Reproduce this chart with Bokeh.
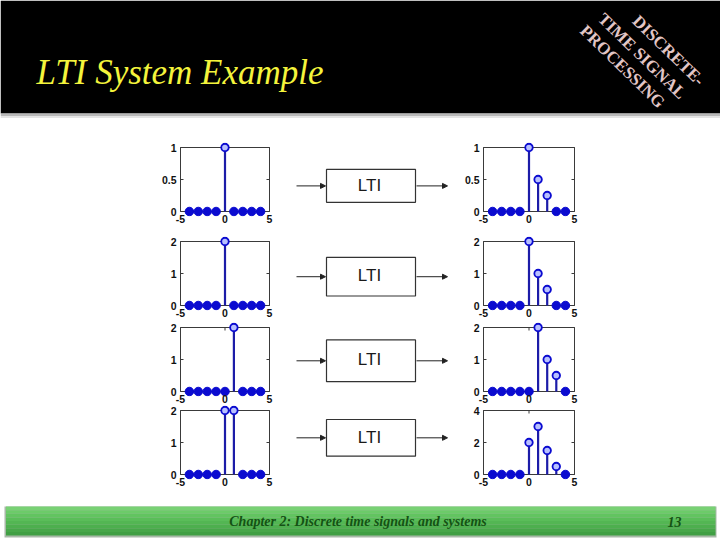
from bokeh.plotting import figure
from bokeh.layouts import column, row, Spacer
from bokeh.models import Range1d, FixedTicker, Arrow, NormalHead
from bokeh.embed import file_html
from bokeh.resources import INLINE
from bokeh.core.properties import value

# ---------------- data ----------------
n = [-4, -3, -2, -1, 0, 1, 2, 3, 4]
x_in_1 = [0, 0, 0, 0, 1, 0, 0, 0, 0]
y_out_1 = [0, 0, 0, 0, 1, 0.5, 0.25, 0, 0]
x_in_2 = [0, 0, 0, 0, 2, 0, 0, 0, 0]
y_out_2 = [0, 0, 0, 0, 2, 1, 0.5, 0, 0]
x_in_3 = [0, 0, 0, 0, 0, 2, 0, 0, 0]
y_out_3 = [0, 0, 0, 0, 0, 2, 1, 0.5, 0]
x_in_4 = [0, 0, 0, 0, 2, 2, 0, 0, 0]
y_out_4 = [0, 0, 0, 0, 2, 3, 1.5, 0.5, 0]

inputs = [x_in_1, x_in_2, x_in_3, x_in_4]
outputs = [y_out_1, y_out_2, y_out_3, y_out_4]
ymax_in = [1, 2, 2, 2]
ymax_out = [1, 2, 2, 4]
yticks_in = [[0, 0.5, 1], [0, 1, 2], [0, 1, 2], [0, 1, 2]]
yticks_out = [[0, 0.5, 1], [0, 1, 2], [0, 1, 2], [0, 2, 4]]
xticks = [-5, 0, 5]
xlim = (-5, 5)
box_label = "LTI"
title = "LTI System Example"
logo_lines = ["DISCRETE-", "TIME  SIGNAL", "PROCESSING"]
footer_text = "Chapter 2: Discrete time signals and systems"
page_no = "13"

# ---------------- layout (reference pixel geometry) ----------------
W, HDR_H, FTR_TOP, H_TOTAL = 720, 118, 500, 540
block_tops = [118, 228, 320, 405, 500]
frame_tops = [147, 241, 327, 410]    # top of the axes box
BOX_H = 64                           # axes box height (px)
PAD = 5                              # frame padding so markers are not cut
box_tb = [(158, 207), (254, 302), (340, 388), (423, 470)]

STEM = "#1c1ca8"
MARK = "#0b0bd0"
AX = "#3a3a3a"


def fmt(v):
    return str(int(v)) if float(v).is_integer() else str(v)


def mini(vals, ymax, yt, top_b, bot_b, box_w):
    sx = box_w / (xlim[1] - xlim[0])
    sy = BOX_H / ymax
    px, py = PAD / sx, PAD / sy
    p = figure(frame_width=box_w + 2 * PAD, frame_height=BOX_H + 2 * PAD,
               x_range=Range1d(xlim[0] - px, xlim[1] + px),
               y_range=Range1d(-py, ymax + py),
               output_backend="svg", toolbar_location=None,
               min_border_left=25, min_border_right=0,
               min_border_top=top_b, min_border_bottom=bot_b,
               background_fill_color="white", border_fill_color=None,
               outline_line_color=None)
    p.xgrid.visible = False
    p.ygrid.visible = False
    p.xaxis.ticker = FixedTicker(ticks=xticks)
    p.yaxis.ticker = FixedTicker(ticks=yt)
    p.xaxis.major_label_overrides = {t: fmt(t) for t in xticks}
    p.yaxis.major_label_overrides = {t: fmt(t) for t in yt}
    for ax in (p.xaxis[0], p.yaxis[0]):
        ax.major_tick_in = 0
        ax.major_tick_out = 0
        ax.minor_tick_in = 0
        ax.minor_tick_out = 0
        ax.axis_line_color = None
        ax.major_tick_line_color = None
        ax.minor_tick_line_color = None
        ax.major_label_text_font = "Liberation Sans"
        ax.major_label_text_font_style = "bold"
        ax.major_label_text_font_size = "10.5px"
        ax.major_label_text_color = "#111111"
    p.xaxis[0].major_label_standoff = -2
    p.yaxis[0].major_label_standoff = -1
    # axes box
    p.quad(left=[xlim[0]], right=[xlim[1]], bottom=[0], top=[ymax],
           fill_color=None, line_color=AX, line_width=1)
    # inward ticks on all four sides
    tl_y, tl_x = 3 / sy, 3 / sx
    p.segment(x0=xticks, y0=[0] * 3, x1=xticks, y1=[tl_y] * 3,
              line_color=AX, line_width=1)
    p.segment(x0=xticks, y0=[ymax] * 3, x1=xticks, y1=[ymax - tl_y] * 3,
              line_color=AX, line_width=1)
    p.segment(x0=[xlim[0]] * len(yt), y0=yt, x1=[xlim[0] + tl_x] * len(yt),
              y1=yt, line_color=AX, line_width=1)
    p.segment(x0=[xlim[1]] * len(yt), y0=yt, x1=[xlim[1] - tl_x] * len(yt),
              y1=yt, line_color=AX, line_width=1)
    nz_x = [a for a, v in zip(n, vals) if v != 0]
    nz_y = [v for v in vals if v != 0]
    z_x = [a for a, v in zip(n, vals) if v == 0]
    z_y = [v for v in vals if v == 0]
    p.segment(x0=nz_x, y0=[0] * len(nz_x), x1=nz_x, y1=nz_y,
              line_color=STEM, line_width=2.2)
    p.scatter(z_x, z_y, size=8.5, fill_color=MARK, line_color=MARK)
    p.scatter(nz_x, nz_y, size=7.5, fill_color="#b8c0ff", line_color=MARK,
              line_width=1.8)
    return p


def middle(i, H, top, bottom):
    p = figure(width=179, height=H, x_range=Range1d(274, 453),
               y_range=Range1d(bottom, top), output_backend="svg",
               toolbar_location=None, x_axis_type=None, y_axis_type=None,
               min_border=0, outline_line_color=None,
               background_fill_color="white", border_fill_color=None)
    p.xgrid.visible = False
    p.ygrid.visible = False
    bt, bb = box_tb[i]
    cy = (bt + bb) / 2
    p.quad(left=[326], right=[415], top=[bt], bottom=[bb],
           fill_color="white", line_color="#333333", line_width=1.2)
    p.text(x=[369], y=[cy - 1], text=[box_label], text_align="center",
           text_baseline="middle", text_font=value("Liberation Sans"),
           text_font_size="17px", text_color="#1a1a1a")
    for (a, b) in [(296, 325), (416, 447)]:
        p.add_layout(Arrow(x_start=a, y_start=cy, x_end=b, y_end=cy,
                           line_color="#222222", line_width=1,
                           end=NormalHead(size=5, fill_color="#222222",
                                          line_color="#222222")))
    return p


# ---------------- header ----------------
hdr = figure(width=W, height=HDR_H, x_range=Range1d(0, W),
             y_range=Range1d(HDR_H, 0), output_backend="svg",
             toolbar_location=None, x_axis_type=None, y_axis_type=None,
             min_border=0, outline_line_color=None,
             background_fill_color="white", border_fill_color=None)
hdr.xgrid.visible = False
hdr.ygrid.visible = False
hdr.quad(left=[0], right=[W], top=[0], bottom=[113], fill_color="black",
         line_color=None)
hdr.quad(left=[0], right=[W], top=[113], bottom=[115.5],
         fill_color="#b8b8b8", line_color=None)
hdr.quad(left=[0], right=[W], top=[115.5], bottom=[118],
         fill_color="#e4e4e4", line_color=None)
hdr.text(x=[36], y=[72], text=[title], text_align="left",
         text_baseline="alphabetic", text_font=value("Liberation Serif"),
         text_font_style="italic", text_font_size="35px",
         text_color="#f4f43c")
hdr.text(x=[668, 643, 622], y=[50, 57, 66], text=logo_lines,
         angle=-0.77, text_align="center", text_baseline="middle",
         text_font=value("Liberation Serif"), text_font_style="bold",
         text_font_size="17px", text_color="#e2c6c6")

# ---------------- rows ----------------
rows = []
for i in range(4):
    top, bottom = block_tops[i], block_tops[i + 1]
    H = bottom - top
    top_b = frame_tops[i] - PAD - top
    bot_b = H - top_b - (BOX_H + 2 * PAD)
    left = mini(inputs[i], ymax_in[i], yticks_in[i], top_b, bot_b, 89)
    mid = middle(i, H, top, bottom)
    right = mini(outputs[i], ymax_out[i], yticks_out[i], top_b, bot_b, 91)
    rows.append(row(Spacer(width=150, height=H), left, mid, right))

# ---------------- footer ----------------
ftr = figure(width=W, height=H_TOTAL - FTR_TOP, x_range=Range1d(0, W),
             y_range=Range1d(H_TOTAL, FTR_TOP), output_backend="svg",
             toolbar_location=None, x_axis_type=None, y_axis_type=None,
             min_border=0, outline_line_color=None,
             background_fill_color="white", border_fill_color=None)
ftr.xgrid.visible = False
ftr.ygrid.visible = False
ftr.quad(left=[4], right=[716], top=[506], bottom=[537],
         fill_color="#a8b8a8", line_color=None)
band_cols = ["#78d174", "#6ccb69", "#62c460", "#5abd59", "#53b653",
             "#4daf4e", "#47a749", "#409f44"]
band_h = (535 - 506) / len(band_cols)
ftr.quad(left=[5.5] * len(band_cols), right=[715] * len(band_cols),
         top=[506 + k * band_h for k in range(len(band_cols))],
         bottom=[506 + (k + 1) * band_h for k in range(len(band_cols))],
         fill_color=band_cols, line_color=None)
ftr.text(x=[357.5], y=[521], text=[footer_text], text_align="center",
         text_baseline="middle", text_font=value("Liberation Serif"),
         text_font_style="bold italic", text_font_size="14px",
         text_color="#145214")
ftr.text(x=[674], y=[521], text=[page_no], text_align="center",
         text_baseline="middle", text_font=value("Liberation Serif"),
         text_font_style="bold italic", text_font_size="14px",
         text_color="#145214")

layout = column(hdr, *rows, ftr)

open("out.html", "w").write(file_html(layout, INLINE, title=title))
